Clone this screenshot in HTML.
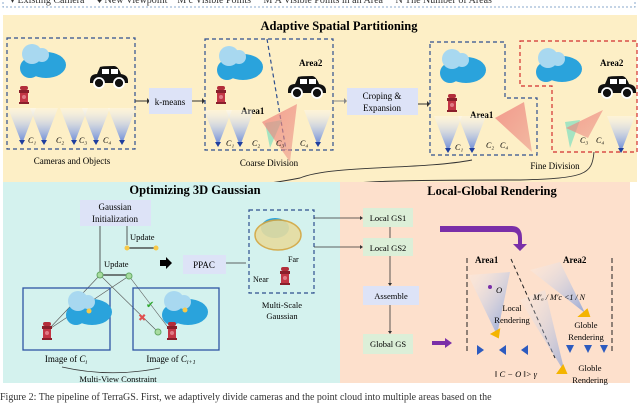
<!DOCTYPE html>
<html><head><meta charset="utf-8"><style>
html,body{margin:0;padding:0;background:#fff;}
svg{display:block;font-family:"Liberation Serif",serif;}
</style></head><body>
<svg width="640" height="403" viewBox="0 0 640 403" xmlns="http://www.w3.org/2000/svg">
<defs>
<linearGradient id="fr" x1="0" y1="0" x2="0" y2="1"><stop offset="0" stop-color="#fff" stop-opacity="0.3"/><stop offset="1" stop-color="#5b7fd6"/></linearGradient>
<linearGradient id="rr" x1="0" y1="0" x2="1" y2="1"><stop offset="0" stop-color="#f28b82"/><stop offset="1" stop-color="#e8867e" stop-opacity="0.6"/></linearGradient>
<linearGradient id="dg" x1="0" y1="0" x2="1" y2="1"><stop offset="0" stop-color="#fff" stop-opacity="0.2"/><stop offset="1" stop-color="#6b8fd8"/></linearGradient>
<g id="cloud"><ellipse cx="30" cy="22" rx="20" ry="13" fill="#2aa3dc"/><circle cx="14" cy="25" r="10" fill="#2aa3dc"/><circle cx="16" cy="11" r="10" fill="#a8d8f0"/><circle cx="26" cy="12" r="7" fill="#a8d8f0"/></g>
<g id="car"><path d="M0 15 Q0 8 7 8 L10 1 Q12 0 24 0 Q28 0 31 8 Q38 9 38 15 L38 17 L0 17Z" fill="#111"/><rect x="12" y="3" width="7" height="5" fill="#fff"/><rect x="21" y="3" width="7" height="5" fill="#fff"/><circle cx="9" cy="17" r="5" fill="#111" stroke="#fff" stroke-width="1.8"/><circle cx="29" cy="17" r="5" fill="#111" stroke="#fff" stroke-width="1.8"/></g>
<g id="hyd"><rect x="1" y="0" width="8" height="4" rx="2" fill="#b32d3a"/><rect x="0" y="4" width="10" height="3" fill="#8a1f2b"/><rect x="1" y="7" width="8" height="9" fill="#c23645"/><circle cx="5" cy="11" r="2" fill="#e07b86"/><rect x="0" y="16" width="10" height="2" fill="#8a1f2b"/></g>
<g id="cam"><path d="M-14 0 L14 0 L0 36Z" fill="url(#fr)"/><path d="M-3 32 L0 37 L3 32Z" fill="#1f3f9e"/></g>
</defs>

<rect x="3" y="-10" width="632" height="17" fill="#fff" stroke="#8ac" stroke-dasharray="2,2"/>
<text x="10" y="3" font-size="10" fill="#333">▾ Existing Camera &#160;&#160;&#160; ♦ New Viewpoint &#160;&#160; M′c Visible Points &#160;&#160;&#160; M′A Visible Points in an Area &#160;&#160;&#160; N The Number of Areas</text>

<rect x="3" y="15" width="634" height="167" fill="#fdefc6"/>
<text x="339" y="30" font-size="12.5" font-weight="bold" text-anchor="middle">Adaptive Spatial Partitioning</text>

<!-- box1 -->
<rect x="7" y="38" width="128" height="111" fill="none" stroke="#2f4f8f" stroke-width="1.2" stroke-dasharray="4,3"/>
<use href="#cloud" x="16" y="43"/>
<use href="#car" x="90" y="66"/>
<use href="#hyd" x="19" y="86"/>
<use href="#cam" x="22" y="108"/><use href="#cam" x="44" y="108"/><use href="#cam" x="74" y="108"/><use href="#cam" x="96" y="108"/><use href="#cam" x="122" y="108"/>
<g font-size="8" font-style="italic"><text x="28" y="143">C₁</text><text x="56" y="143">C₂</text><text x="79" y="143">C₃</text><text x="103" y="143">C₄</text></g>
<text x="72" y="164" font-size="9" text-anchor="middle">Cameras and Objects</text>

<line x1="135" y1="101" x2="147" y2="101" stroke="#333"/><path d="M147 98 L150 101 L147 104Z" fill="#333"/>
<rect x="149" y="88" width="43" height="26" fill="#dde3f7"/>
<text x="170" y="105" font-size="9" text-anchor="middle">k-means</text>
<line x1="192" y1="101" x2="202" y2="101" stroke="#333"/><path d="M202 98 L205 101 L202 104Z" fill="#333"/>

<!-- coarse -->
<rect x="205" y="39" width="128" height="111" fill="none" stroke="#2f4f8f" stroke-width="1.2" stroke-dasharray="4,3"/>
<line x1="267" y1="39" x2="286" y2="150" stroke="#2f4f8f" stroke-width="1.2" stroke-dasharray="4,3"/>
<use href="#cloud" x="213" y="45"/>
<use href="#car" x="288" y="76"/>
<use href="#hyd" x="216" y="86"/>
<text x="241" y="114" font-size="9" font-weight="bold">Area1</text>
<text x="299" y="66" font-size="9" font-weight="bold">Area2</text>
<use href="#cam" x="218" y="110"/><use href="#cam" x="240" y="110"/><use href="#cam" x="318" y="110"/>
<path d="M265 123 L282 120 L270 148Z" fill="#7de0c0" opacity="0.7"/>
<path d="M262 140 L297 122 L290 180Z" fill="url(#rr)" opacity="0.8" transform="translate(0,-18)"/>
<g font-size="8" font-style="italic"><text x="226" y="146">C₁</text><text x="252" y="146">C₂</text><text x="276" y="146">C₃</text><text x="300" y="146">C₄</text></g>
<text x="269" y="166" font-size="9" text-anchor="middle">Coarse Division</text>

<line x1="333" y1="101" x2="344" y2="101" stroke="#888"/><path d="M344 98 L347 101 L344 104Z" fill="#888"/>
<rect x="347" y="88" width="71" height="27" fill="#dde3f7"/>
<text x="382" y="99" font-size="9" text-anchor="middle">Croping &amp;</text>
<text x="382" y="111" font-size="9" text-anchor="middle">Expansion</text>
<line x1="418" y1="104" x2="427" y2="104" stroke="#333"/><path d="M427 101 L430 104 L427 107Z" fill="#333"/>

<!-- fine area1 -->
<path d="M430 42 L505 42 L505 98 L537 98 L537 155 L430 155Z" fill="none" stroke="#2f4f8f" stroke-width="1.2" stroke-dasharray="4,3"/>
<use href="#cloud" x="436" y="48"/>
<use href="#hyd" x="447" y="94"/>
<text x="470" y="118" font-size="9" font-weight="bold">Area1</text>
<use href="#cam" x="448" y="116"/><use href="#cam" x="472" y="116"/>
<path d="M495 118 L524 102 L532 152Z" fill="url(#rr)" opacity="0.85"/>
<g font-size="8" font-style="italic"><text x="455" y="150">C₁</text><text x="486" y="148">C₂</text><text x="500" y="148">C₄</text></g>

<!-- fine area2 -->
<path d="M520 41 L637 41 L637 152 L552 152 L552 86 L520 86Z" fill="none" stroke="#d32f2f" stroke-width="1.2" stroke-dasharray="4,3"/>
<use href="#cloud" x="532" y="47"/>
<use href="#car" x="598" y="76"/>
<text x="600" y="66" font-size="9" font-weight="bold">Area2</text>
<path d="M565 122 L580 120 L570 148Z" fill="#7de0c0" opacity="0.7"/>
<path d="M566 140 L603 122 L588 150Z" fill="url(#rr)" opacity="0.8" transform="translate(0,-12)"/>
<use href="#cam" x="621" y="116"/>
<g font-size="8" font-style="italic"><text x="580" y="143">C₃</text><text x="596" y="143">C₄</text></g>
<text x="555" y="169" font-size="9" text-anchor="middle">Fine Division</text>

<path d="M472 160 C420 170 330 165 300 178 C260 186 240 185 236 190" fill="none" stroke="#333" stroke-width="0.9"/>
<path d="M594 152 C592 175 585 178 520 180 C420 180 340 180 310 190" fill="none" stroke="#333" stroke-width="0.9"/>

<!-- cyan panel -->
<rect x="3" y="182" width="337" height="201" fill="#d4f2ee"/>
<text x="195" y="194" font-size="12.5" font-weight="bold" text-anchor="middle">Optimizing 3D Gaussian</text>
<rect x="80" y="200" width="71" height="26" fill="#dde3f7"/>
<text x="115" y="210" font-size="9" text-anchor="middle">Gaussian</text>
<text x="115" y="222" font-size="9" text-anchor="middle">Initialization</text>
<line x1="127" y1="226" x2="127" y2="245" stroke="#333" stroke-width="0.8"/>
<line x1="100" y1="226" x2="100" y2="272" stroke="#333" stroke-width="0.8"/>
<text x="130" y="240" font-size="8.5">Update</text>
<line x1="127" y1="248" x2="154" y2="248" stroke="#333" stroke-width="1.2"/>
<circle cx="127" cy="248" r="2.5" fill="#f7c948"/><circle cx="156" cy="248" r="2.5" fill="#f7c948"/>
<text x="104" y="267" font-size="8.5">Update</text>
<line x1="100" y1="275" x2="127" y2="275" stroke="#333" stroke-width="1.2"/>
<g stroke="#555" stroke-width="0.6"><line x1="100" y1="275" x2="48" y2="330"/><line x1="129" y1="276" x2="48" y2="330"/><line x1="100" y1="275" x2="158" y2="332"/><line x1="129" y1="276" x2="170" y2="330"/></g>
<circle cx="100" cy="275" r="3" fill="#a8dca0" stroke="#6a6"/><circle cx="129" cy="276" r="3" fill="#a8dca0" stroke="#6a6"/>
<path d="M160 260 L166 260 L166 257 L172 263 L166 269 L166 266 L160 266Z" fill="#000"/>
<rect x="183" y="255" width="43" height="19" fill="#dde3f7"/>
<text x="204" y="268" font-size="9" text-anchor="middle">PPAC</text>
<line x1="226" y1="263" x2="246" y2="263" stroke="#333" stroke-width="0.7"/>
<rect x="249" y="210" width="65" height="83" fill="none" stroke="#2f4f8f" stroke-width="1.2" stroke-dasharray="4,3"/>
<ellipse cx="275" cy="228" rx="14" ry="10" fill="#2aa3dc"/>
<ellipse cx="278" cy="235" rx="23" ry="15" fill="#e6dca0" stroke="#d4a640" stroke-width="1.5" opacity="0.9"/>
<text x="288" y="262" font-size="8">Far</text>
<text x="253" y="282" font-size="8">Near</text>
<use href="#hyd" x="280" y="267"/>
<text x="282" y="308" font-size="8.5" text-anchor="middle">Multi-Scale</text>
<text x="282" y="319" font-size="8.5" text-anchor="middle">Gaussian</text>
<line x1="314" y1="218" x2="340" y2="218" stroke="#333" stroke-width="0.7"/>
<line x1="314" y1="247" x2="340" y2="247" stroke="#333" stroke-width="0.7"/>

<rect x="23" y="288" width="87" height="62" fill="none" stroke="#2f55a4" stroke-width="1.3"/>
<rect x="133" y="288" width="86" height="62" fill="none" stroke="#2f55a4" stroke-width="1.3"/>
<use href="#cloud" x="62" y="290" transform="translate(0,0)"/><circle cx="89" cy="311" r="2.5" fill="#f7c948"/>
<use href="#cloud" x="158" y="290"/><circle cx="185" cy="310" r="2.5" fill="#f7c948"/>
<use href="#hyd" x="42" y="322"/><use href="#hyd" x="167" y="322"/>
<circle cx="158" cy="332" r="3" fill="#a8dca0" stroke="#6a6"/>
<text x="146" y="308" font-size="10" fill="#3a3">✔</text>
<text x="138" y="321" font-size="10" fill="#e05050">✖</text>
<text x="66" y="362" font-size="9" text-anchor="middle">Image of <tspan font-style="italic">C<tspan font-size="6" dy="2">i</tspan></tspan></text>
<text x="171" y="362" font-size="9" text-anchor="middle">Image of <tspan font-style="italic">C<tspan font-size="6" dy="2">i+1</tspan></tspan></text>
<path d="M62 367 Q110 378 160 368" fill="none" stroke="#333" stroke-width="0.7"/>
<text x="118" y="382" font-size="8.5" text-anchor="middle">Multi-View Constraint</text>

<!-- peach panel -->
<rect x="340" y="182" width="290" height="201" fill="#fde0cc"/>
<text x="492" y="195" font-size="12.5" font-weight="bold" text-anchor="middle">Local-Global Rendering</text>
<rect x="363" y="208" width="50" height="19" fill="#dcefd8"/><text x="388" y="221" font-size="8.5" text-anchor="middle">Local GS1</text>
<rect x="363" y="238" width="50" height="18" fill="#dcefd8"/><text x="388" y="251" font-size="8.5" text-anchor="middle">Local GS2</text>
<rect x="363" y="286" width="56" height="19" fill="#dde3f7"/><text x="391" y="299" font-size="8.5" text-anchor="middle">Assemble</text>
<rect x="363" y="334" width="50" height="20" fill="#dcefd8"/><text x="388" y="347" font-size="8.5" text-anchor="middle">Global GS</text>
<g stroke="#333" stroke-width="0.8"><line x1="340" y1="218" x2="360" y2="218"/><line x1="340" y1="247" x2="360" y2="247"/><line x1="390" y1="227" x2="390" y2="238"/><line x1="390" y1="256" x2="390" y2="283"/><line x1="390" y1="305" x2="390" y2="331"/></g>
<path d="M360 216 L363 218 L360 220Z M360 245 L363 247 L360 249Z M388 283 L390 286 L392 283Z M388 331 L390 334 L392 331Z" fill="#333"/>
<path d="M440 226 L512 226 Q522 226 522 238 L522 244 L527 244 L520 251 L513 244 L518 244 L518 238 Q518 232 512 232 L440 232Z" fill="#7a2fa8"/>
<path d="M432 341 L445 341 L445 338 L452 343 L445 348 L445 345 L432 345Z" fill="#7a2fa8"/>
<line x1="467" y1="258" x2="467" y2="354" stroke="#222" stroke-dasharray="5,3"/>
<line x1="612" y1="258" x2="612" y2="354" stroke="#222" stroke-dasharray="5,3"/>
<line x1="511" y1="259" x2="555" y2="358" stroke="#222" stroke-dasharray="4,3"/>
<text x="475" y="263" font-size="9" font-weight="bold">Area1</text>
<text x="563" y="263" font-size="9" font-weight="bold">Area2</text>
<path d="M468 275 L510 272 L497 335Z" fill="url(#dg)" opacity="0.8"/>
<path d="M530 270 L560 262 L585 313Z" fill="url(#dg)" opacity="0.7"/>
<path d="M520 300 L545 290 L565 373Z" fill="url(#dg)" opacity="0.6"/>
<path d="M492 334 L499 330 L498 337Z M580 316 L587 310 L589 316Z M558 373 L563 366 L566 373Z" fill="#f4b400" stroke="#f4b400" stroke-width="2"/>
<circle cx="490" cy="287" r="2" fill="#7a2fa8"/><text x="496" y="293" font-size="8.5" font-style="italic">O</text>
<text x="512" y="311" font-size="8.5" text-anchor="middle">Local</text>
<text x="512" y="323" font-size="8.5" text-anchor="middle">Rendering</text>
<text x="533" y="300" font-size="8" font-style="italic">M′ₐ / M′c &lt;1 / N</text>
<text x="586" y="328" font-size="8.5" text-anchor="middle">Globle</text>
<text x="586" y="340" font-size="8.5" text-anchor="middle">Rendering</text>
<g fill="#2d5bbf"><path d="M477 345 L484 350 L477 355Z"/><path d="M506 345 L499 350 L506 355Z"/><path d="M528 345 L521 350 L528 355Z"/><path d="M566 345 L574 345 L570 353Z"/><path d="M584 345 L592 345 L588 353Z"/><path d="M600 345 L608 345 L604 353Z"/></g>
<text x="495" y="377" font-size="8.5" font-style="italic">‖ C  − O ‖&gt; γ</text>
<text x="590" y="371" font-size="8.5" text-anchor="middle">Globle</text>
<text x="590" y="383" font-size="8.5" text-anchor="middle">Rendering</text>

<text x="0" y="400" font-size="10" fill="#333">Figure 2: The pipeline of TerraGS. First, we adaptively divide cameras and the point cloud into multiple areas based on the</text>
</svg>
</body></html>
